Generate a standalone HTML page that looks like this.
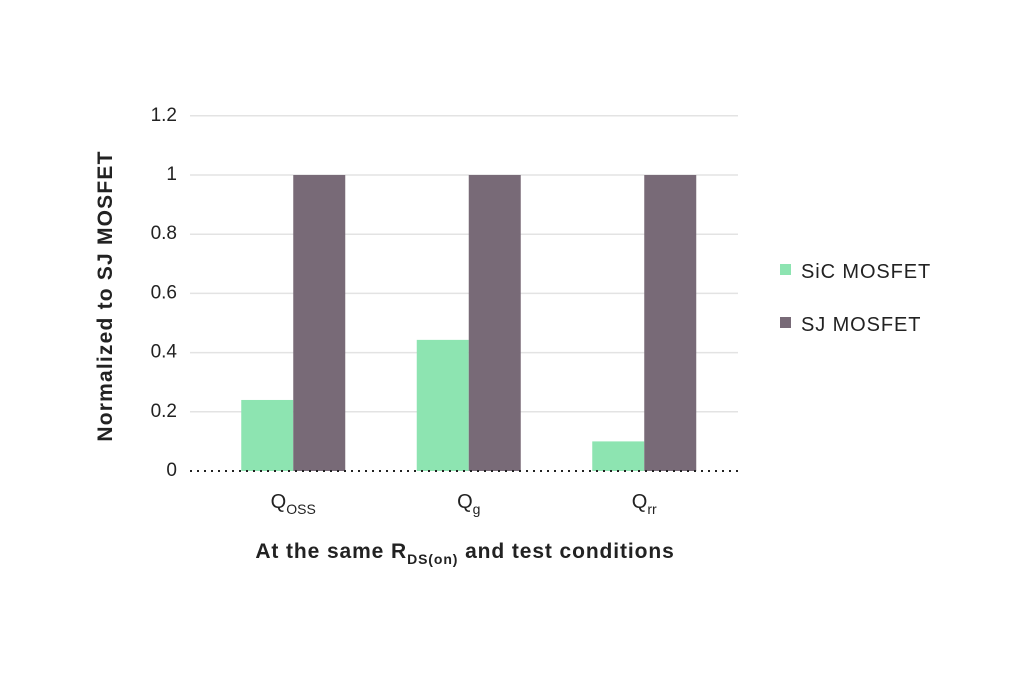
<!DOCTYPE html>
<html><head><meta charset="utf-8"><style>
html,body{margin:0;padding:0;background:#fff;}
svg{display:block;font-family:"Liberation Sans",sans-serif;}
</style></head><body>
<svg id="chart" width="1024" height="683" viewBox="0 0 1024 683">
<g id="grid"></g>
<g id="bars"></g>
<line x1="190" y1="471" x2="738" y2="471" stroke="#222" stroke-width="2" stroke-dasharray="2,5"/>
<g id="yticks" font-size="19" fill="#222" text-anchor="end"></g>
<g id="xticks" font-size="20" fill="#222" text-anchor="middle"></g>
<text transform="translate(112,296) rotate(-90)" text-anchor="middle" font-size="21" font-weight="bold" letter-spacing="1.2" fill="#222">Normalized to SJ MOSFET</text>
<text x="465" y="558" text-anchor="middle" font-size="21" font-weight="bold" letter-spacing="0.9" fill="#222">At the same R<tspan font-size="14" dy="6">DS(on)</tspan><tspan dy="-6"> and test conditions</tspan></text>
<g>
<g><rect x="780" y="264" width="11" height="11" fill="#8de4b1"/><text x="801" y="278" font-size="20" letter-spacing="0.9" fill="#222">SiC MOSFET</text></g>
<g><rect x="780" y="317" width="11" height="11" fill="#786a77"/><text x="801" y="331" font-size="20" letter-spacing="0.9" fill="#222">SJ MOSFET</text></g>
</g>
</svg>
<script>
const categories=["Q|OSS","Q|g","Q|rr"];
const sicValues=[0.24,0.443,0.10];
const sjValues=[1,1,1];
const yTicks=[0,0.2,0.4,0.6,0.8,1,1.2];
const yTickLabels=["0","0.2","0.4","0.6","0.8","1","1.2"];
const NS="http://www.w3.org/2000/svg";
const y=v=>471-v*296;
const x0=205.5,step=175.5,bw=52;
const cx=i=>x0+step*(i+0.5);
const grid=document.getElementById('grid'),bars=document.getElementById('bars');
const yt=document.getElementById('yticks'),xt=document.getElementById('xticks');
yTicks.forEach((t,i)=>{
 if(t>0){const l=document.createElementNS(NS,'line');
 
 
 l.setAttribute('x1',190);l.setAttribute('x2',738);l.setAttribute('y1',y(t));l.setAttribute('y2',y(t));
 l.setAttribute('stroke','#e3e3e3');l.setAttribute('stroke-width','1.5');grid.appendChild(l);}
 const tx=document.createElementNS(NS,'text');
 
 
 tx.setAttribute('x',177);tx.setAttribute('y',y(t)+5);tx.textContent=yTickLabels[i];yt.appendChild(tx);
});
categories.forEach((c,i)=>{
 const g=document.createElementNS(NS,'rect');
 
 
 g.setAttribute('x',cx(i)-bw);g.setAttribute('width',bw);g.setAttribute('y',y(sicValues[i]));g.setAttribute('height',y(0)-y(sicValues[i]));g.setAttribute('fill','#8de4b1');bars.appendChild(g);
 const p=document.createElementNS(NS,'rect');
 
 
 p.setAttribute('x',cx(i));p.setAttribute('width',bw);p.setAttribute('y',y(sjValues[i]));p.setAttribute('height',y(0)-y(sjValues[i]));p.setAttribute('fill','#786a77');bars.appendChild(p);
 const [m,s]=c.split('|');
 const tx=document.createElementNS(NS,'text');
 
 
 tx.setAttribute('x',cx(i));tx.setAttribute('y',508);
 tx.innerHTML=m+'<tspan font-size="14" dy="6">'+s+'</tspan>';
 xt.appendChild(tx);
});
</script>
</body></html>
